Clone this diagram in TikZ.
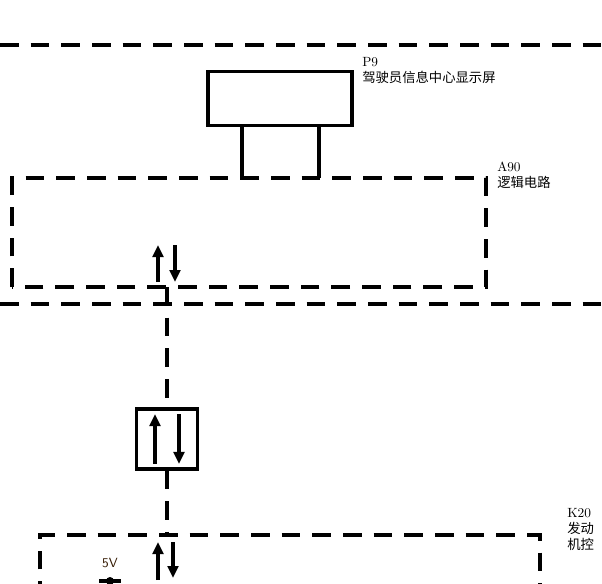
\documentclass[tikz,border=0pt]{standalone}
\usepackage{fontspec}
\newfontfamily\cjk{Noto Sans CJK SC}
\usetikzlibrary{arrows.meta,positioning}
\tikzset{
  bus/.style={line width=3.2pt, dash pattern=on 14pt off 9pt},
  pin/.style={line width=2.4pt},
  flow/.style={line width=2.4pt, -{Triangle[length=9pt,width=8pt]}},
  lbl/.style={anchor=north west, align=left, inner sep=0pt, font=\normalsize, text height=9pt}
}
\begin{document}
\begin{tikzpicture}[x=0.75pt,y=-0.75pt]
  \clip (0,0) rectangle (602,583);
  \fill[white] (0,0) rectangle (602,583);
  % section lines -----------------------------------------------------
  \draw[bus] (0,45) -- (602,45);
  \draw[bus] (0,304) -- (602,304);
  % P9 display ------------------------------------------------------
  \node[draw, line width=2.4pt, minimum width=108pt, minimum height=41pt] (disp) at (280,98.5) {};
  \node[lbl] (disptxt) at (362,70) {P9\\{\cjk 驾驶员信息中心显示屏}};
  \coordinate (pa) at (242,178);
  \coordinate (pb) at (319,178);
  \draw[pin] (disp.south -| pa) -- (pa);
  \draw[pin] (disp.south -| pb) -- (pb);
  % A90 logic -------------------------------------------------------
  \draw[bus] (12,287) -- (12,178) -- (486,178) -- (486,287) -- cycle;
  \node[lbl] (logictxt) at (497,175) {A90\\{\cjk 逻辑电路}};
  \draw[flow] (158,282) -- (158,245);
  \draw[flow] (175,245) -- (175,282);
  % serial link -----------------------------------------------------
  \node[draw, line width=2.4pt, minimum width=46pt, minimum height=45pt] (link) at (167,439) {};
  \draw[bus] (167,287) -- (link.north);
  \draw[bus] (link.south) -- (167,535);
  \draw[flow] ([xshift=-9pt,yshift=5pt]link.south) -- ([xshift=-9pt,yshift=-5pt]link.north);
  \draw[flow] ([xshift=9pt,yshift=-5pt]link.north) -- ([xshift=9pt,yshift=5pt]link.south);
  % K20 engine control ----------------------------------------------
  \draw[bus] (40,600) -- (40,535) -- (540,535) -- (540,600);
  \node[lbl] (ecmtxt) at (567,537) {K20\\{\cjk 发动}\\{\cjk 机控}};
  \draw[flow] (158,580) -- (158,542);
  \draw[flow] (173,542) -- (173,578);
  \node[inner sep=0pt, font=\sffamily, text=black!80!orange] (vref) at (110,563) {5V};
  \draw[pin] (99,581) -- (121,581);
  \fill (110,581) circle (3pt);
\end{tikzpicture}
\end{document}
